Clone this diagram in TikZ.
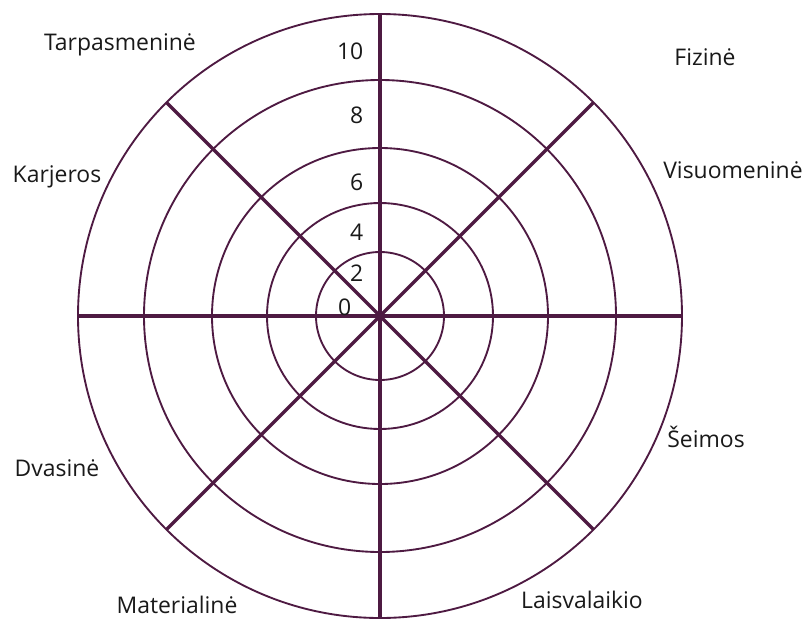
\documentclass[tikz,border=0pt]{standalone}
\usepackage{fontspec}
\setmainfont{Open Sans}
\definecolor{wheel}{RGB}{78,26,66}
\tikzset{
  ring/.style={draw=wheel, line width=1.4pt},
  spoke/.style={draw=wheel, line width=2.4pt},
  area/.style={font=\fontsize{17.2}{20}\selectfont, text=black!90},
  level/.style={font=\fontsize{17.2}{20}\selectfont, text=black!90, anchor=east}
}
\begin{document}
\begin{tikzpicture}[x=0.75pt,y=-0.75pt]
  \useasboundingbox (0,0) rectangle (808,622);
  \coordinate (c) at (380,316);
  % rings 2 ... 10
  \draw[ring] (c) circle (64);
  \draw[ring] (c) circle (113);
  \draw[ring] (c) circle (168);
  \draw[ring] (c) circle (236);
  \draw[ring] (c) circle (302);
  % spoke ends on the outer ring
  \coordinate (n) at (380,14);
  \coordinate (s) at (380,618);
  \coordinate (w) at (78,316);
  \coordinate (e) at (682,316);
  \coordinate (ne) at (593.5,102.5);
  \coordinate (nw) at (166.5,102.5);
  \coordinate (se) at (593.5,529.5);
  \coordinate (sw) at (166.5,529.5);
  \draw[spoke] (c) -- (n);
  \draw[spoke] (c) -- (s);
  \draw[spoke] (c) -- (w);
  \draw[spoke] (c) -- (e);
  \draw[spoke] (c) -- (ne);
  \draw[spoke] (c) -- (nw);
  \draw[spoke] (c) -- (se);
  \draw[spoke] (c) -- (sw);
  % scale
  \node[level] (l10) at (368,51) {10};
  \node[level] (l8) at (368,115) {8};
  \node[level] (l6) at (368,182) {6};
  \node[level] (l4) at (368,232) {4};
  \node[level] (l2) at (368,273) {2};
  \node[level] (l0) at (356,307) {0};
  % areas
  \node[area] (tarp) at (120,45) {Tarpasmeninė};
  \node[area] (karj) at (57,177) {Karjeros};
  \node[area] (fiz) at (705,57) {Fizinė};
  \node[area] (visu) at (733,170) {Visuomeninė};
  \node[area] (dvas) at (57,468) {Dvasinė};
  \node[area] (mat) at (177,605) {Materialinė};
  \node[area] (seim) at (706,437) {Šeimos};
  \node[area] (lais) at (582,600) {Laisvalaikio};
\end{tikzpicture}
\end{document}
